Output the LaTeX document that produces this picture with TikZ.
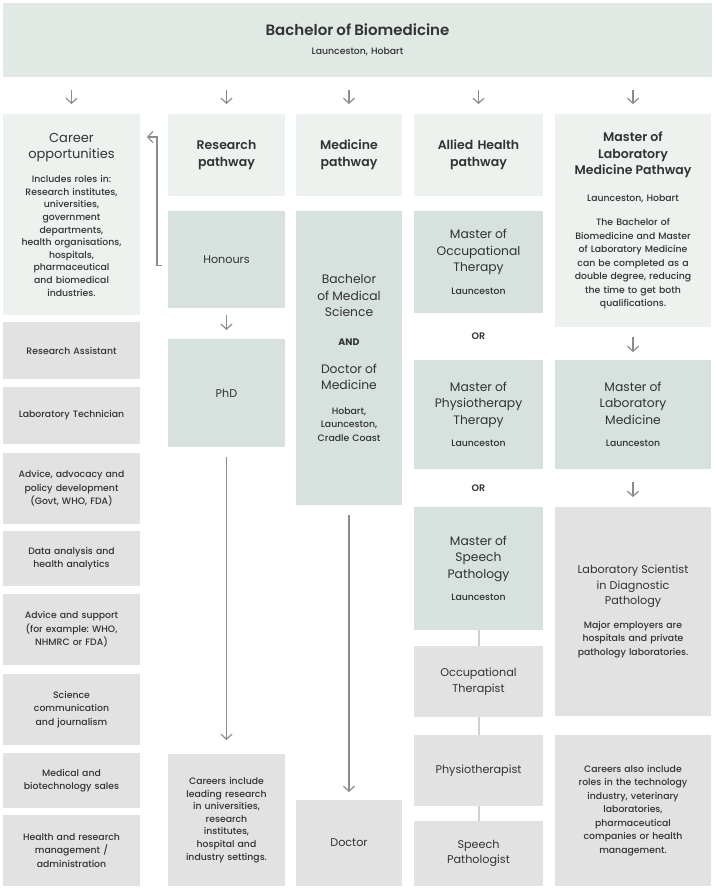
\documentclass[tikz,border=0pt]{standalone}
\usepackage{fontspec}
\setmainfont{Poppins}[UprightFont=* Medium,BoldFont=* SemiBold]
\newfontfamily\regfam{Poppins}
\usetikzlibrary{positioning,calc,arrows.meta}
\frenchspacing
\definecolor{bannerbg}{HTML}{E1E9E5}
\definecolor{lightbg}{HTML}{EDF2EF}
\definecolor{sagebg}{HTML}{D7E1DE}
\definecolor{greybg}{HTML}{E2E2E2}
\definecolor{txt}{HTML}{333333}
\definecolor{arrgrey}{HTML}{8C8C8C}
\definecolor{lnkgrey}{HTML}{D0D0D0}
\newcommand\fbig{\fontsize{15}{19}\selectfont\bfseries}
\newcommand\fhead{\fontsize{12.5}{16.5}\selectfont\bfseries}
\newcommand\fcar{\regfam\mdseries\fontsize{13}{16}\selectfont}
\newcommand\fmid{\regfam\mdseries\fontsize{12.3}{16.5}\selectfont}
\newcommand\fnorm{\regfam\mdseries\fontsize{11.2}{15.5}\selectfont}
\newcommand\fand{\fontsize{9.5}{12}\selectfont\bfseries}
\newcommand\fsmall{\normalfont\fontsize{9.3}{13.5}\selectfont}
\newcommand\fbody{\normalfont\fontsize{9.3}{12.6}\selectfont}
\begin{document}
\begin{tikzpicture}[x=1pt,y=1pt,
  box/.style={inner sep=0pt,outer sep=0pt,align=center,text=txt,font=\fsmall},
  lightbox/.style={box,fill=lightbg},
  sagebox/.style={box,fill=sagebg},
  greybox/.style={box,fill=greybg},
  col1/.style={minimum width=137pt,text width=133pt},
  col2/.style={minimum width=117pt,text width=113pt},
  col3/.style={minimum width=106pt,text width=102pt},
  col4/.style={minimum width=129pt,text width=125pt},
  col5/.style={minimum width=156pt,text width=152pt},
  ortxt/.style={inner sep=0pt,text=txt,font=\fand},
  arr/.style={draw=arrgrey,line width=1.2pt,-{Straight Barb[length=5pt,width=11pt]}},
  lnk/.style={draw=lnkgrey,line width=2pt}]
\useasboundingbox (0,0) rectangle (715,-890);

\node[box,fill=bannerbg,minimum width=709pt,minimum height=74pt,text width=700pt] (bbm) at (357.5,-40)
  {\fbig Bachelor of Biomedicine\par\vspace{5pt}\fsmall Launceston, Hobart};

\node[lightbox,col1,font=\fbody,minimum height=201pt,anchor=north] (car) at (71.5,-114)
  {\fcar Career\\opportunities\par\vspace{12pt}\fbody Includes roles in:\\Research institutes,\\universities,\\government\\departments,\\health organisations,\\hospitals,\\pharmaceutical\\and biomedical\\industries.};
\node[greybox,col1,minimum height=57pt,below=7pt of car] (ra) {Research Assistant};
\node[greybox,col1,minimum height=57pt,below=8pt of ra] (lt) {Laboratory Technician};
\node[greybox,col1,minimum height=71pt,below=9pt of lt] (adv) {Advice, advocacy and\\policy development\\(Govt, WHO, FDA)};
\node[greybox,col1,minimum height=55pt,below=7pt of adv] (dat) {Data analysis and\\health analytics};
\node[greybox,col1,minimum height=71pt,below=8pt of dat] (sup) {Advice and support\\(for example: WHO,\\NHMRC or FDA)};
\node[greybox,col1,minimum height=71pt,below=9pt of sup] (sci) {Science\\communication\\and journalism};
\node[greybox,col1,minimum height=55pt,below=8pt of sci] (sal) {Medical and\\biotechnology sales};
\node[greybox,col1,minimum height=71pt,below=7pt of sal] (mgt) {Health and research\\management /\\administration};

\node[lightbox,col2,font=\fhead,minimum height=82pt,anchor=north] (rp) at (226.5,-114) {Research\\pathway};
\node[sagebox,col2,font=\fnorm,minimum height=97pt,below=15pt of rp] (hon) {Honours};
\node[sagebox,col2,font=\fnorm,minimum height=108pt,below=31pt of hon] (phd) {PhD};
\node[greybox,col2,font=\fbody,minimum height=132pt,below=307pt of phd] (cci)
  {Careers include\\leading research\\in universities,\\research\\institutes,\\hospital and\\industry settings.};

\node[lightbox,col3,font=\fhead,minimum height=82pt,anchor=north] (mp) at (349,-114) {Medicine\\pathway};
\node[sagebox,col3,minimum height=294pt,below=15pt of mp] (bms)
  {\fmid Bachelor\\of Medical\\Science\par\vspace{17pt}\fand AND\par\vspace{11pt}\fmid Doctor of\\Medicine\par\vspace{11pt}\fsmall Hobart,\\Launceston,\\Cradle Coast};
\node[greybox,col3,font=\fnorm,minimum height=86pt,below=295pt of bms] (doc) {Doctor};

\node[lightbox,col4,font=\fhead,minimum height=82pt,anchor=north] (ah) at (478.5,-114) {Allied Health\\pathway};
\node[sagebox,col4,minimum height=102pt,below=15pt of ah] (mot)
  {\fmid Master of\\Occupational\\Therapy\par\vspace{9pt}\fsmall Launceston};
\node[sagebox,col4,minimum height=109pt,below=47pt of mot] (mpt)
  {\fmid Master of\\Physiotherapy\\Therapy\par\vspace{9pt}\fsmall Launceston};
\node[sagebox,col4,minimum height=123pt,below=38pt of mpt] (msp)
  {\fmid Master of\\Speech\\Pathology\par\vspace{9pt}\fsmall Launceston};
\node[greybox,col4,font=\fnorm,minimum height=71pt,below=16pt of msp] (ot) {Occupational\\Therapist};
\node[greybox,col4,font=\fnorm,minimum height=71pt,below=18pt of ot] (phy) {Physiotherapist};
\node[greybox,col4,font=\fnorm,minimum height=65pt,below=15pt of phy] (spp) {Speech\\Pathologist};
\node[ortxt] (or1) at ($(mot.south)!.5!(mpt.north)$) {OR};
\node[ortxt] (or2) at ($(mpt.south)!.5!(msp.north)$) {OR};

\node[lightbox,col5,minimum height=213pt,anchor=north] (mlp) at (633,-114)
  {\fhead Master of\\Laboratory\\Medicine Pathway\par\vspace{13pt}\fsmall Launceston, Hobart\par\vspace{11pt}The Bachelor of\\Biomedicine and Master\\of Laboratory Medicine\\can be completed as a\\double degree, reducing\\the time to get both\\qualifications.};
\node[sagebox,col5,minimum height=109pt,below=33pt of mlp] (mlm)
  {\fmid Master of\\Laboratory\\Medicine\par\vspace{9pt}\fsmall Launceston};
\node[greybox,col5,minimum height=209pt,below=38pt of mlm] (lsd)
  {\fnorm Laboratory Scientist\\in Diagnostic\\Pathology\par\vspace{10pt}\fsmall Major employers are\\hospitals and private\\pathology laboratories.};
\node[greybox,col5,minimum height=151pt,below=19pt of lsd] (cai)
  {Careers also include\\roles in the technology\\industry, veterinary\\laboratories,\\pharmaceutical\\companies or health\\management.};

\foreach \n in {car,rp,mp,ah,mlp}
  \draw[arr] ([yshift=24pt]\n.north) -- ([yshift=10pt]\n.north);
\draw[arr] ([yshift=-7pt]hon.south) -- ([yshift=9pt]phd.north);
\draw[arr] ([yshift=-10pt]mlp.south) -- ([yshift=8pt]mlm.north);
\draw[arr] ([yshift=-13pt]mlm.south) -- ([yshift=10pt]lsd.north);
\draw[arr] ([yshift=-10pt]phd.south) -- ([yshift=14pt]cci.north);
\draw[arr] ([yshift=-10pt]bms.south) -- ([yshift=8pt]doc.north);
\draw[arr] ([xshift=-6pt,yshift=-6pt]hon.west) -- ++(-5pt,0) |- ([xshift=7pt,yshift=-23pt]car.north east);
\draw[lnk] (msp) -- (ot) (ot) -- (phy) (phy) -- (spp);
\end{tikzpicture}
\end{document}
